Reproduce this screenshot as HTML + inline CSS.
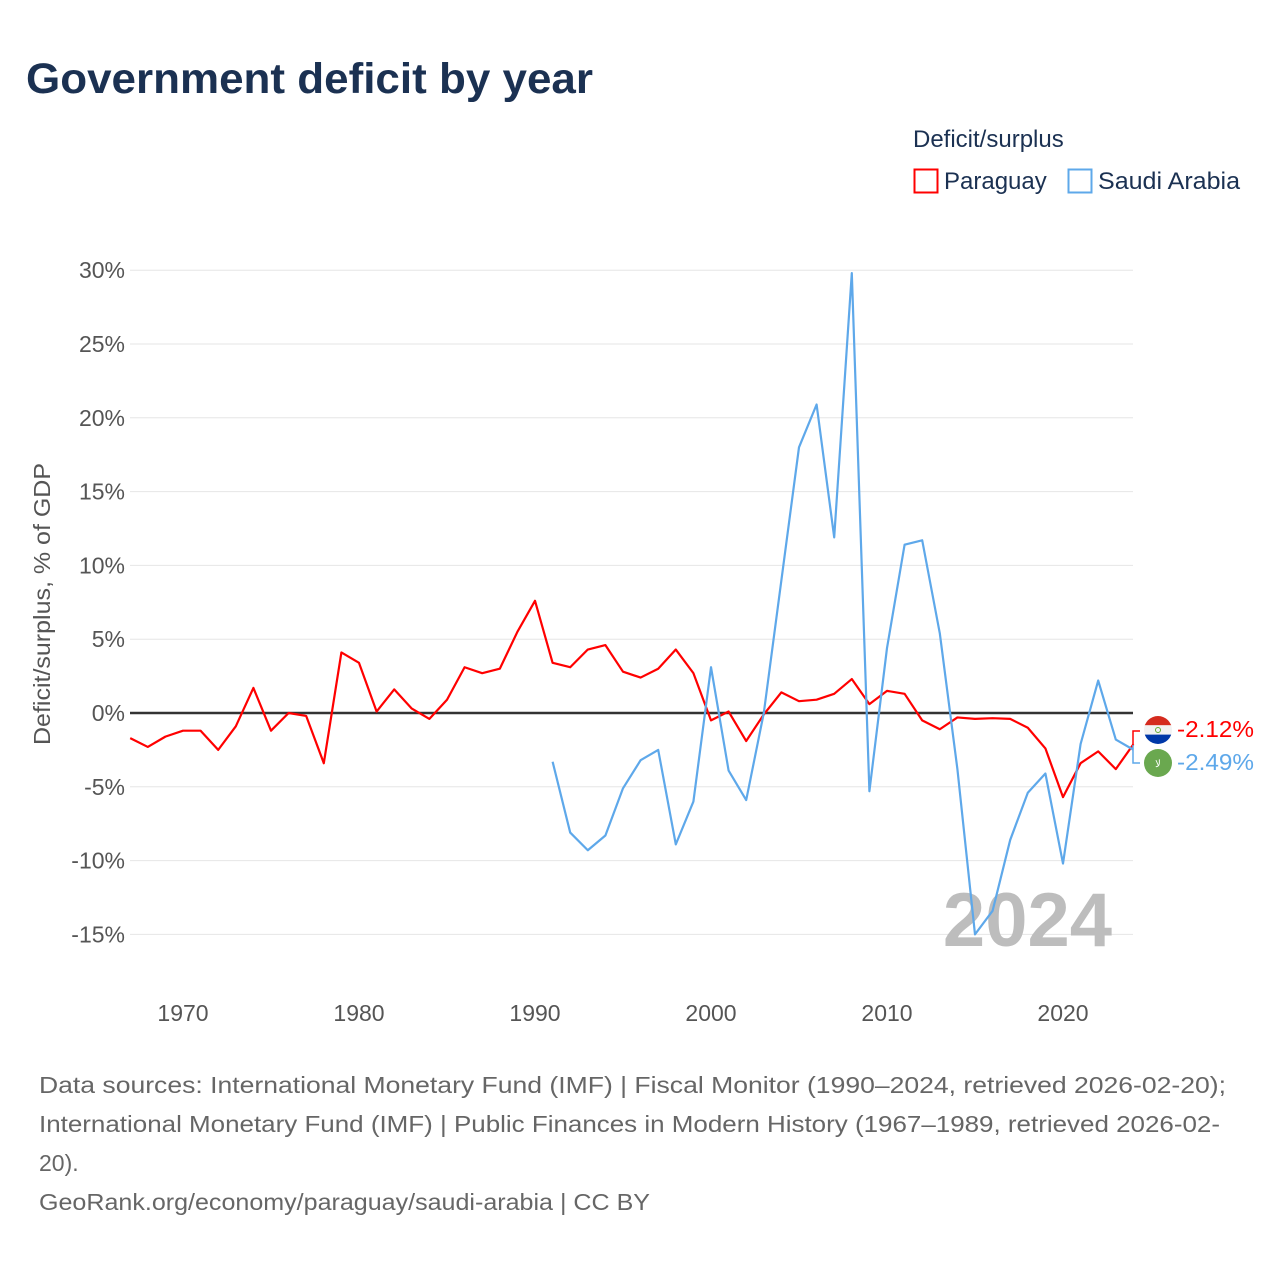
<!DOCTYPE html>
<html><head><meta charset="utf-8"><style>
body{margin:0;background:#fff;font-family:"Liberation Sans",sans-serif;}
svg text{font-family:"Liberation Sans",sans-serif;}
</style></head><body>
<svg id="chart" width="1280" height="1280" xmlns="http://www.w3.org/2000/svg">
<text x="26" y="93" font-size="43" font-weight="bold" fill="#1b3152" textLength="567" lengthAdjust="spacingAndGlyphs">Government deficit by year</text>
<text x="913" y="147" font-size="24" fill="#1b3152">Deficit/surplus</text>
<g><rect x="914.5" y="169.5" width="23" height="23" fill="#fff" stroke="#f00" stroke-width="2"/><text x="944" y="189" font-size="24" fill="#1b3152">Paraguay</text></g>
<g><rect x="1068.5" y="169.5" width="23" height="23" fill="#fff" stroke="#5ea8ea" stroke-width="2"/><text x="1098" y="189" font-size="24" fill="#1b3152" textLength="142" lengthAdjust="spacingAndGlyphs">Saudi Arabia</text></g>
<g id="grid"></g>
<g id="yticks"></g>
<g id="xticks"></g>
<text transform="translate(50,604) rotate(-90)" text-anchor="middle" font-size="23" fill="#555" textLength="282" lengthAdjust="spacingAndGlyphs">Deficit/surplus, % of GDP</text>
<text x="1112" y="946" text-anchor="end" font-size="76" font-weight="bold" fill="#bdbdbd">2024</text>
<g id="series"></g>
<g>
<polyline points="1133,745 1133,731 1140,731" fill="none" stroke="#f00" stroke-width="1.5"/>
<polyline points="1133,745 1133,763 1140,763" fill="none" stroke="#5ea8ea" stroke-width="1.5"/>
<clipPath id="c1"><circle cx="1158" cy="730" r="14"/></clipPath>
<g clip-path="url(#c1)"><rect x="1144" y="716" width="28" height="9.3" fill="#d52b1e"/><rect x="1144" y="725.3" width="28" height="9.3" fill="#f2f2f2"/><rect x="1144" y="734.6" width="28" height="9.4" fill="#0038a8"/><circle cx="1158" cy="730" r="2.5" fill="none" stroke="#6a3" stroke-width="1"/></g>
<circle cx="1158" cy="763" r="14" fill="#6aa84f"/>
<text x="1158" y="767" text-anchor="middle" font-size="10" fill="#fff">لا</text>
<text x="1177" y="737" font-size="23" fill="#f00" textLength="77" lengthAdjust="spacingAndGlyphs">-2.12%</text>
<text x="1177" y="770" font-size="23" fill="#5ea8ea" textLength="77" lengthAdjust="spacingAndGlyphs">-2.49%</text>
</g>
<g font-size="23" fill="#666">
<text x="39" y="1093" textLength="1187" lengthAdjust="spacingAndGlyphs">Data sources: International Monetary Fund (IMF) | Fiscal Monitor (1990–2024, retrieved 2026-02-20);</text>
<text x="39" y="1132" textLength="1181" lengthAdjust="spacingAndGlyphs">International Monetary Fund (IMF) | Public Finances in Modern History (1967–1989, retrieved 2026-02-</text>
<text x="39" y="1171">20).</text>
<text x="39" y="1210" textLength="611" lengthAdjust="spacingAndGlyphs">GeoRank.org/economy/paraguay/saudi-arabia | CC BY</text>
</g>
</svg>
<script>
const yTicks=[30,25,20,15,10,5,0,-5,-10,-15];
const xTicks=[1970,1980,1990,2000,2010,2020];
const paraguayYears=[1967,1968,1969,1970,1971,1972,1973,1974,1975,1976,1977,1978,1979,1980,1981,1982,1983,1984,1985,1986,1987,1988,1989,1990,1991,1992,1993,1994,1995,1996,1997,1998,1999,2000,2001,2002,2003,2004,2005,2006,2007,2008,2009,2010,2011,2012,2013,2014,2015,2016,2017,2018,2019,2020,2021,2022,2023,2024];
const paraguayValues=[-1.7,-2.3,-1.6,-1.2,-1.2,-2.5,-0.9,1.7,-1.2,0,-0.2,-3.4,4.1,3.4,0.1,1.6,0.3,-0.4,0.9,3.1,2.7,3.0,5.5,7.6,3.4,3.1,4.3,4.6,2.8,2.4,3.0,4.3,2.7,-0.5,0.1,-1.9,-0.1,1.4,0.8,0.9,1.3,2.3,0.6,1.5,1.3,-0.5,-1.1,-0.3,-0.4,-0.35,-0.4,-1.0,-2.4,-5.7,-3.4,-2.6,-3.8,-2.12];
const saudiYears=[1991,1992,1993,1994,1995,1996,1997,1998,1999,2000,2001,2002,2003,2004,2005,2006,2007,2008,2009,2010,2011,2012,2013,2014,2015,2016,2017,2018,2019,2020,2021,2022,2023,2024];
const saudiValues=[-3.3,-8.1,-9.3,-8.3,-5.1,-3.2,-2.5,-8.9,-6.0,3.1,-3.9,-5.9,0,9.0,18.0,20.9,11.9,29.8,-5.3,4.4,11.4,11.7,5.4,-3.8,-15.0,-13.4,-8.6,-5.4,-4.1,-10.2,-2.1,2.2,-1.8,-2.49];
const NS='http://www.w3.org/2000/svg';
const x=yr=>183+(yr-1970)*17.6;
const y=v=>713-v*14.76;
function mk(tag,attrs,parent){const e=document.createElementNS(NS,tag);for(const k in attrs)e.setAttribute(k,attrs[k]);parent.appendChild(e);return e;}
const grid=document.getElementById('grid'),yt=document.getElementById('yticks'),xt=document.getElementById('xticks'),ser=document.getElementById('series');
yTicks.forEach(t=>{
  const l=mk('line',{x1:130,x2:1133,y1:y(t),y2:y(t),stroke:t===0?'#333':'#e6e6e6','stroke-width':t===0?2.5:1},grid);
  
  
  const tx=mk('text',{x:125,y:y(t)+8,'text-anchor':'end','font-size':23,fill:'#555'},yt);
  
  
  tx.textContent=t+'%';
});
xTicks.forEach(t=>{
  const tx=mk('text',{x:x(t),y:1021,'text-anchor':'middle','font-size':23,fill:'#555'},xt);
  
  
  tx.textContent=t;
});
const pp=paraguayYears.map((yr,i)=>x(yr)+','+y(paraguayValues[i])).join(' ');
const p1=mk('polyline',{points:pp,fill:'none',stroke:'#f00','stroke-width':2.2,'stroke-linejoin':'round'},ser);


const sp=saudiYears.map((yr,i)=>x(yr)+','+y(saudiValues[i])).join(' ');
const p2=mk('polyline',{points:sp,fill:'none',stroke:'#5ea8ea','stroke-width':2.2,'stroke-linejoin':'round'},ser);


</script>
</body></html>
